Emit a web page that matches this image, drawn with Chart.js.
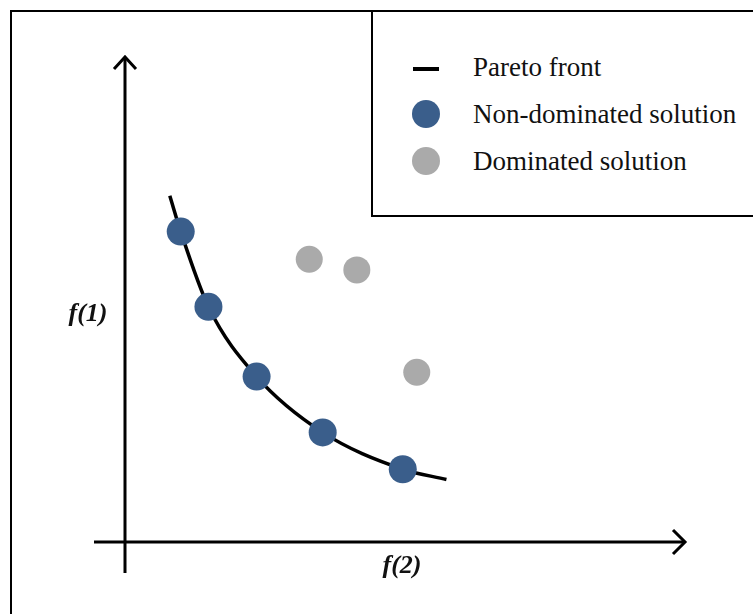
<!DOCTYPE html>
<html>
<head>
<meta charset="utf-8">
<script src="https://cdn.jsdelivr.net/npm/chart.js@4/dist/chart.umd.min.js"></script>
<style>
  html, body { margin: 0; padding: 0; background: #fff; overflow: hidden; }
  #wrap { position: relative; width: 753px; height: 614px; }
  #frame { position: absolute; left: 10px; top: 10px; width: 800px; height: 700px; border: 2px solid #000; }
  #legend { position: absolute; left: 371px; top: 10px; width: 420px; height: 203px; border: 2px solid #000; background: #fff; }
  .item { position: absolute; left: 0; height: 30px; width: 400px; font-family: "Liberation Serif", serif; font-size: 27px; color: #111; }
  .item span.txt { position: absolute; left: 100px; top: 50%; transform: translateY(-50%); white-space: nowrap; }
  .item .mark { position: absolute; left: 40px; top: 50%; }
  .axis-label { position: absolute; font-family: "Liberation Serif", serif; font-weight: bold; font-style: italic; font-size: 26px; color: #111; transform: translate(-50%, -50%); white-space: nowrap; }
  canvas { position: absolute; left: 0; top: 0; }
</style>
</head>
<body>
<div id="wrap">
  <div id="frame"></div>
  <canvas id="chart" width="753" height="614"></canvas>
  <div id="legend"></div>
  <div class="axis-label" style="left:88px; top:313px;">f(1)</div>
  <div class="axis-label" style="left:402px; top:565px;">f(2)</div>
</div>
<script>
// objective values, f(2) on x and f(1) on y
const frontX = [0.80, 0.995, 1.49, 2.35, 3.53, 4.96, 5.74];
const frontY = [7.14, 6.40, 4.85, 3.41, 2.26, 1.50, 1.29];

const nonDomX = [0.995, 1.49, 2.35, 3.53, 4.96];
const nonDomY = [6.40, 4.85, 3.41, 2.26, 1.50];

const domX = [3.29, 4.14, 5.21];
const domY = [5.83, 5.61, 3.50];

const seriesNames = ["Pareto front", "Non-dominated solution", "Dominated solution"];

const BLUE = "#3a5e8b";
const GREY = "#aaaaaa";

const toPoints = (xs, ys) => xs.map((x, i) => ({ x, y: ys[i] }));

// arrowed axes through the origin
const axesPlugin = {
  id: "arrowAxes",
  beforeDatasetsDraw(chart) {
    const { ctx, scales: { x, y } } = chart;
    const x0 = x.getPixelForValue(0);
    const y0 = y.getPixelForValue(0);
    const xEnd = x.getPixelForValue(x.max);
    const yEnd = y.getPixelForValue(y.max);
    ctx.save();
    ctx.strokeStyle = "#000";
    ctx.lineWidth = 3;
    ctx.lineCap = "butt";
    ctx.beginPath();
    ctx.moveTo(x0 - 31, y0);
    ctx.lineTo(xEnd, y0);
    ctx.moveTo(x0, y0 + 31);
    ctx.lineTo(x0, yEnd);
    ctx.stroke();
    ctx.lineJoin = "miter";
    ctx.beginPath();
    ctx.moveTo(xEnd - 12, y0 - 12);
    ctx.lineTo(xEnd, y0);
    ctx.lineTo(xEnd - 12, y0 + 12);
    ctx.moveTo(x0 - 11, yEnd + 12);
    ctx.lineTo(x0, yEnd);
    ctx.lineTo(x0 + 11, yEnd + 12);
    ctx.stroke();
    ctx.restore();
  },
};

const chart = new Chart(document.getElementById("chart"), {
  type: "scatter",
  data: {
    datasets: [
      {
        label: seriesNames[1],
        data: toPoints(nonDomX, nonDomY),
        backgroundColor: BLUE,
        borderColor: BLUE,
        borderWidth: 0,
        pointRadius: 14,
        order: 1,
      },
      {
        label: seriesNames[2],
        data: toPoints(domX, domY),
        backgroundColor: GREY,
        borderColor: GREY,
        borderWidth: 0,
        pointRadius: 13.5,
        order: 2,
      },
      {
        label: seriesNames[0],
        type: "line",
        data: toPoints(frontX, frontY),
        borderColor: "#000",
        borderWidth: 3.5,
        pointRadius: 0,
        fill: false,
        cubicInterpolationMode: "monotone",
        order: 3,
      },
    ],
  },
  options: {
    responsive: false,
    animation: false,
    events: [],
    layout: { padding: { left: 125, right: 68, top: 57, bottom: 72 } },
    plugins: { legend: { display: false }, tooltip: { enabled: false } },
    scales: {
      x: { type: "linear", min: 0, max: 10, display: false },
      y: { type: "linear", min: 0, max: 10, display: false },
    },
  },
  plugins: [axesPlugin],
});

// legend box, built from the same datasets
const legendEl = document.getElementById("legend");
const rowTops = [40, 87, 134];
const legendOrder = [2, 0, 1];
legendOrder.forEach((dsIndex, row) => {
  const ds = chart.data.datasets[dsIndex];
  const item = document.createElement("div");
  item.className = "item";
  item.style.top = rowTops[row] + "px";
  const mark = document.createElement("div");
  mark.className = "mark";
  if (ds.type === "line") {
    Object.assign(mark.style, { width: "26px", height: "4px", marginTop: "0px", background: ds.borderColor });
  } else {
    Object.assign(mark.style, { width: "28px", height: "28px", marginTop: "-14px", marginLeft: "-1px", borderRadius: "50%", background: ds.backgroundColor });
  }
  const txt = document.createElement("span");
  txt.className = "txt";
  txt.textContent = ds.label;
  item.appendChild(mark);
  item.appendChild(txt);
  legendEl.appendChild(item);
});
</script>
</body>
</html>
